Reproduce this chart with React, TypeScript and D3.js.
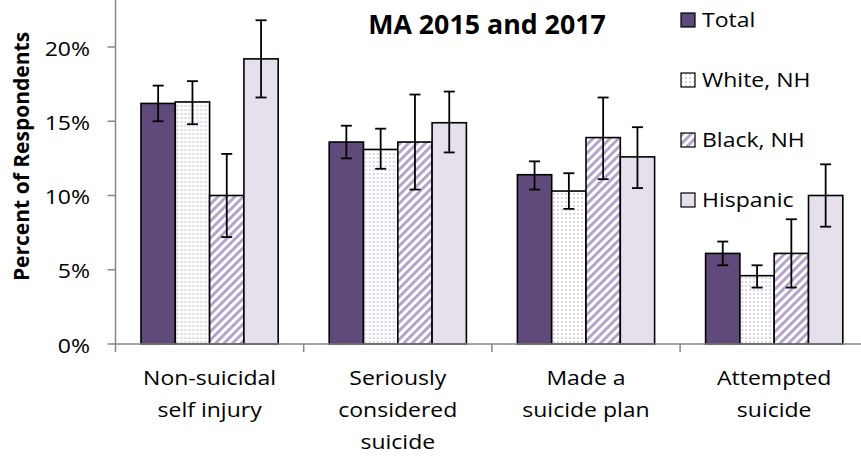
import React from "react";
import * as d3 from "d3";

// Survey categories and racial/ethnic groups
const categories = [
  ["Non-suicidal", "self injury"],
  ["Seriously", "considered", "suicide"],
  ["Made a", "suicide plan"],
  ["Attempted", "suicide"],
];
const categoryKeys = ["nssi", "considered", "plan", "attempted"];
const seriesNames = ["Total", "White, NH", "Black, NH", "Hispanic"];

// Percent of respondents, per series, in category order
const totalValues = [16.2, 13.6, 11.4, 6.1];
const whiteValues = [16.3, 13.1, 10.3, 4.6];
const blackValues = [10.0, 13.6, 13.9, 6.1];
const hispanicValues = [19.2, 14.9, 12.6, 10.0];

// 95% confidence intervals (lower, upper)
const totalLow = [15.0, 12.5, 10.4, 5.3];
const totalHigh = [17.4, 14.7, 12.3, 6.9];
const whiteLow = [14.8, 11.8, 9.1, 3.8];
const whiteHigh = [17.7, 14.5, 11.5, 5.3];
const blackLow = [7.2, 10.4, 11.1, 3.8];
const blackHigh = [12.8, 16.8, 16.6, 8.4];
const hispanicLow = [16.6, 12.9, 10.5, 7.9];
const hispanicHigh = [21.8, 17.0, 14.6, 12.1];

const yTicks = [0, 5, 10, 15, 20];
const titleLine = "MA 2015 and 2017";
const yAxisTitle = "Percent of Respondents";

const seriesValues = [totalValues, whiteValues, blackValues, hispanicValues];
const seriesLow = [totalLow, whiteLow, blackLow, hispanicLow];
const seriesHigh = [totalHigh, whiteHigh, blackHigh, hispanicHigh];

const W = 861;
const H = 456;
const FONT = "'Open Sans', sans-serif";
const SX = 1.15;

const fills = ["#604A7B", "url(#dots)", "url(#stripes)", "#E5E0EC"];

function Txt(props: {
  x: number;
  y: number;
  anchor?: "start" | "middle" | "end";
  size?: number;
  weight?: string | number;
  sx?: number;
  children: React.ReactNode;
}) {
  const { x, y, anchor = "start", size = 20, weight = "normal", sx = SX } = props;
  return (
    <text
      transform={`translate(${x},${y}) scale(${sx},1)`}
      textAnchor={anchor}
      fontFamily={FONT}
      fontSize={size}
      fontWeight={weight}
      fill="#000"
    >
      {props.children}
    </text>
  );
}

export default function App() {
  const x0 = 115.5;
  const band = 188.2;
  const xOuter = d3
    .scaleBand<string>()
    .domain(categoryKeys)
    .range([x0, x0 + band * categoryKeys.length])
    .padding(0);
  const groupPad = 25.5;
  const xInner = d3
    .scaleBand<string>()
    .domain(seriesNames)
    .range([groupPad, xOuter.bandwidth() - groupPad])
    .padding(0);
  const y = d3.scaleLinear().domain([0, 20]).range([344, 47]);
  const baseY = y(0);
  const capHalf = 5.5;

  return (
    <svg width={W} height={H} style={{ display: "block", position: "absolute", left: 0, top: 0, background: "#fff" }}>
      <defs>
        <pattern id="dots" patternUnits="userSpaceOnUse" width={4} height={4}>
          <rect width={4} height={4} fill="#fff" />
          <rect x={1} y={1} width={2} height={2} fill="#DCD4E8" />
        </pattern>
        <pattern
          id="stripes"
          patternUnits="userSpaceOnUse"
          width={6}
          height={6}
          patternTransform="rotate(45)"
        >
          <rect width={6} height={6} fill="#fff" />
          <rect x={0} y={0} width={2.9} height={6} fill="#B3A2C7" />
        </pattern>
      </defs>

      {/* bars */}
      {categoryKeys.map((cat, ci) => (
        <g key={cat} transform={`translate(${xOuter(cat)},0)`}>
          {seriesNames.map((s, si) => {
            const v = seriesValues[si][ci];
            const bx = xInner(s)!;
            const bw = xInner.bandwidth();
            return (
              <rect
                key={s}
                x={bx}
                y={y(v)}
                width={bw}
                height={baseY - y(v)}
                fill={fills[si]}
                stroke="#000"
                strokeWidth={1.6}
              />
            );
          })}
        </g>
      ))}

      {/* axes */}
      <line x1={x0} x2={W} y1={baseY} y2={baseY} stroke="#868686" strokeWidth={1.5} />
      <line x1={x0} x2={x0} y1={0} y2={baseY} stroke="#868686" strokeWidth={1.5} />
      {yTicks.map((t) => (
        <g key={t}>
          <line x1={x0 - 8} x2={x0} y1={y(t)} y2={y(t)} stroke="#868686" strokeWidth={1.5} />
          <Txt x={90} y={y(t) + 8.5} anchor="end">
            {t}%
          </Txt>
        </g>
      ))}
      {d3.range(categoryKeys.length + 1).map((i) => (
        <line
          key={i}
          x1={x0 + i * band}
          x2={x0 + i * band}
          y1={baseY}
          y2={baseY + 8}
          stroke="#868686"
          strokeWidth={1.5}
        />
      ))}

      {/* error bars */}
      {categoryKeys.map((cat, ci) => (
        <g key={cat} transform={`translate(${xOuter(cat)},0)`}>
          {seriesNames.map((s, si) => {
            const cx = xInner(s)! + xInner.bandwidth() / 2;
            const lo = y(seriesLow[si][ci]);
            const hi = y(seriesHigh[si][ci]);
            return (
              <g key={s} stroke="#000" strokeWidth={1.8}>
                <line x1={cx} x2={cx} y1={lo} y2={hi} />
                <line x1={cx - capHalf} x2={cx + capHalf} y1={lo} y2={lo} />
                <line x1={cx - capHalf} x2={cx + capHalf} y1={hi} y2={hi} />
              </g>
            );
          })}
        </g>
      ))}

      {/* category labels */}
      {categoryKeys.map((cat, ci) => {
        const cx = xOuter(cat)! + xOuter.bandwidth() / 2;
        return categories[ci].map((line, li) => (
          <Txt key={cat + li} x={cx} y={385 + li * 32} anchor="middle">
            {line}
          </Txt>
        ));
      })}

      {/* y axis title */}
      <text
        transform="translate(28.5,156.5) rotate(-90)"
        textAnchor="middle"
        fontFamily={FONT}
        fontSize={21}
        fontWeight="bold"
      >
        {yAxisTitle}
      </text>

      {/* chart title */}
      <Txt x={487} y={34} anchor="middle" size={26} weight="bold" sx={1.03}>
        {titleLine}
      </Txt>

      {/* legend */}
      {seriesNames.map((s, si) => (
        <g key={s}>
          <rect
            x={681}
            y={13 + si * 60}
            width={14}
            height={14}
            fill={fills[si]}
            stroke="#000"
            strokeWidth={1.2}
          />
          <Txt x={702} y={27 + si * 60}>
            {s}
          </Txt>
        </g>
      ))}
    </svg>
  );
}
